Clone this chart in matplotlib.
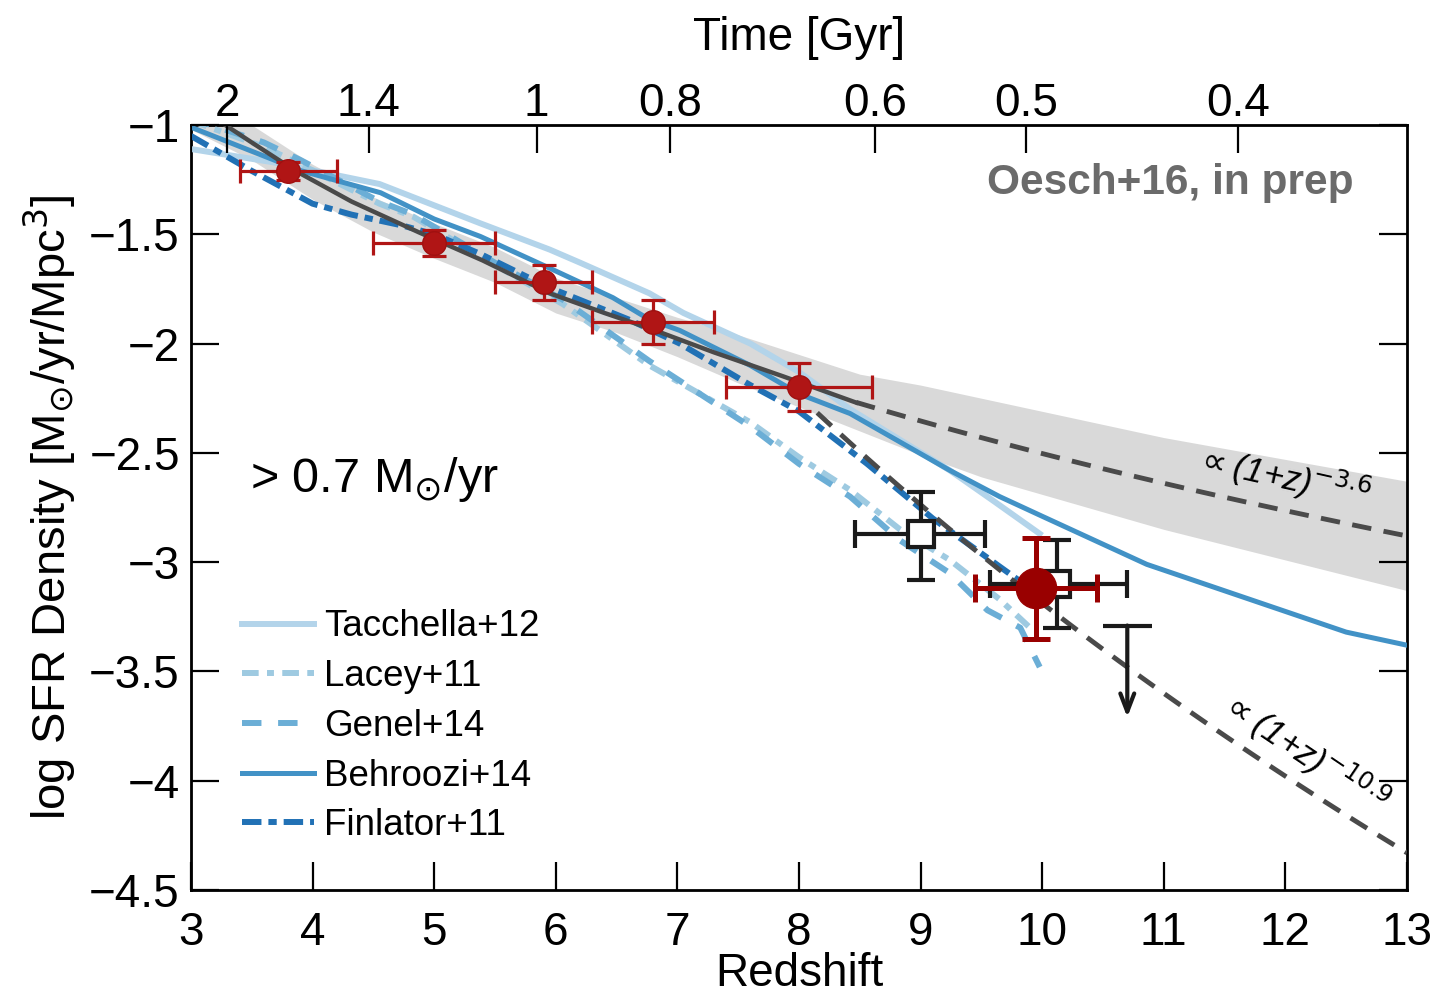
import numpy as np
import matplotlib
matplotlib.use("Agg")
import matplotlib.pyplot as plt

plt.rcParams['font.family'] = ['Liberation Sans', 'DejaVu Sans']
plt.rcParams['mathtext.fontset'] = 'dejavusans'
plt.rcParams['lines.scale_dashes'] = False

# observed SFRD points (red), z ranges and errors
z_obs = [3.8, 5.0, 5.9, 6.8, 8.0]
sfrd_obs = [-1.21, -1.54, -1.72, -1.90, -2.20]
sfrd_obs_err = [0.04, 0.06, 0.08, 0.10, 0.11]
z_obs_lo = [3.4, 4.5, 5.5, 6.3, 7.4]
z_obs_hi = [4.2, 5.5, 6.3, 7.3, 8.6]

# new z~10 point (big red)
z_new = [9.95]
sfrd_new = [-3.12]
sfrd_new_err = [0.23]
z_new_lo = [9.45]
z_new_hi = [10.45]

# previous estimates (black open squares)
z_prev = [9.0, 10.12]
sfrd_prev = [-2.87, -3.10]
sfrd_prev_lo = [0.21, 0.20]
sfrd_prev_hi = [0.19, 0.20]
z_prev_lo = [8.46, 9.57]
z_prev_hi = [9.53, 10.70]

# upper limit
z_lim = [10.7]
sfrd_lim = [-3.29]
z_lim_err = [0.2]

# fit to the data (solid black) and the gray band
z_fit = [3.2, 3.5, 3.86, 4.32, 4.87, 5.4, 5.95, 6.4, 6.77, 7.3, 7.87, 8.47]
sfrd_fit = [-0.97, -1.08, -1.21, -1.35, -1.49, -1.62, -1.77, -1.86, -1.93, -2.04, -2.15, -2.27]
z_band = [3.0, 3.5, 4.0, 4.5, 5.0, 5.5, 6.0, 6.5, 7.0, 7.5, 8.0, 8.5, 9.0, 9.5, 10.0, 11.0, 12.0, 13.0]
band_mid = [-0.92, -1.08, -1.26, -1.41, -1.53, -1.64, -1.78, -1.87, -1.97, -2.07, -2.17, -2.27,
            -2.35, -2.43, -2.50, -2.64, -2.76, -2.88]
band_half = [0.10, 0.08, 0.08, 0.08, 0.08, 0.08, 0.08, 0.08, 0.09, 0.11, 0.12, 0.13,
             0.16, 0.18, 0.19, 0.21, 0.23, 0.25]

# power-law extrapolations: log rho = norm + slope*log10(1+z)
slope_shallow, norm_shallow, z_start_shallow = -3.6, 1.246, 8.47
slope_steep, norm_steep, z_start_steep = -10.9, 8.163, 8.15

# models
z_tac = [3.0, 3.67, 4.2, 4.55, 5.38, 5.95, 6.2, 6.77, 7.05, 7.6, 8.0, 8.42, 8.83, 9.24, 9.6, 9.98]
sfrd_tac = [-1.11, -1.17, -1.23, -1.27, -1.45, -1.57, -1.63, -1.77, -1.86, -2.00, -2.13, -2.30,
            -2.44, -2.58, -2.72, -2.87]
z_lac = [3.0, 3.6, 3.9, 4.55, 4.83, 5.5, 6.06, 6.77, 7.6, 8.0, 8.42, 8.83, 9.24, 9.65, 9.9]
sfrd_lac = [-0.98, -1.10, -1.18, -1.36, -1.42, -1.64, -1.82, -2.10, -2.36, -2.52, -2.67, -2.85,
            -2.99, -3.17, -3.30]
z_gen = [3.0, 3.6, 3.9, 4.55, 4.83, 5.5, 6.06, 6.77, 7.6, 8.0, 8.42, 8.83, 9.24, 9.55, 9.82, 9.98]
sfrd_gen = [-0.97, -1.08, -1.16, -1.35, -1.41, -1.63, -1.80, -2.08, -2.38, -2.55, -2.70, -2.90,
            -3.05, -3.22, -3.30, -3.48]
z_beh = [3.0, 3.5, 3.91, 4.56, 5.0, 5.38, 5.93, 6.47, 6.77, 7.02, 7.6, 8.0, 8.42, 9.24, 9.65,
         10.0, 10.86, 12.5, 13.0]
sfrd_beh = [-1.01, -1.12, -1.21, -1.31, -1.43, -1.51, -1.65, -1.79, -1.89, -1.94, -2.10, -2.23,
            -2.32, -2.58, -2.70, -2.79, -3.01, -3.32, -3.38]
z_fin = [3.0, 3.5, 4.0, 4.32, 4.74, 5.0, 5.38, 5.93, 6.6, 7.02, 7.6, 8.0, 8.56, 9.1, 9.65, 9.8]
sfrd_fin = [-1.05, -1.21, -1.36, -1.41, -1.46, -1.50, -1.59, -1.74, -1.89, -2.00, -2.19, -2.31,
            -2.55, -2.80, -3.02, -3.08]

# cosmic time axis
ages = [2, 1.4, 1, 0.8, 0.6, 0.5, 0.4]
age_labels = ['2', '1.4', '1', '0.8', '0.6', '0.5', '0.4']
H0, Om = 70.0, 0.27


def age_to_z(t):
    # flat LCDM age-redshift relation, inverted
    OL = 1.0 - Om
    pref = 977.8 / H0 * 2.0 / (3.0 * np.sqrt(OL))
    return (np.sinh(np.asarray(t) / pref) / np.sqrt(OL / Om)) ** (-2.0 / 3.0) - 1.0


def minus(v):
    return f"{v:g}".replace('-', '\u2212')


fig = plt.figure(figsize=(14.37, 9.96), dpi=100)
ax = fig.add_axes([0.1329, 0.1064, 0.8462, 0.7681])

band_mid = np.array(band_mid)
band_half = np.array(band_half)
ax.fill_between(z_band, band_mid - band_half, band_mid + band_half, color='#d9d9d9', lw=0, zorder=1)

c_tac, c_lac, c_gen, c_beh, c_fin = '#b3d4ea', '#9ecae1', '#6baed6', '#4292c6', '#2171b5'
ax.plot(z_tac, sfrd_tac, color=c_tac, lw=4.3, label='Tacchella+12', zorder=3)
ax.plot(z_lac, sfrd_lac, color=c_lac, lw=4.3, dashes=(12, 6, 5, 6), label='Lacey+11', zorder=3)
ax.plot(z_gen, sfrd_gen, color=c_gen, lw=4.3, dashes=(14, 12), label='Genel+14', zorder=3)
ax.plot(z_beh, sfrd_beh, color=c_beh, lw=3.6, label='Behroozi+14', zorder=3)
ax.plot(z_fin, sfrd_fin, color=c_fin, lw=4.3, dashes=(14, 5, 6, 5), label='Finlator+11', zorder=3)

ax.plot(z_fit, sfrd_fit, color='#4a4a4a', lw=3.2, zorder=4)
zz = np.linspace(z_start_shallow, 13, 50)
ax.plot(zz, norm_shallow + slope_shallow * np.log10(1 + zz), color='#4a4a4a', lw=3.5,
        dashes=(14, 9), zorder=4)
zz = np.linspace(z_start_steep, 13, 50)
ax.plot(zz, norm_steep + slope_steep * np.log10(1 + zz), color='#4a4a4a', lw=3.5,
        dashes=(14, 9), zorder=4)

# data points
red = '#b01515'
xerr = [np.subtract(z_obs, z_obs_lo), np.subtract(z_obs_hi, z_obs)]
ax.errorbar(z_obs, sfrd_obs, xerr=xerr, yerr=sfrd_obs_err, fmt='o', color=red, mec='#a01010',
            ms=17, lw=2.3, capsize=8.5, capthick=2.3, zorder=6)

xerr = [np.subtract(z_prev, z_prev_lo), np.subtract(z_prev_hi, z_prev)]
ax.errorbar(z_prev, sfrd_prev, xerr=xerr, yerr=[sfrd_prev_lo, sfrd_prev_hi], fmt='s',
            color='#1a1a1a', mfc='white', mec='#1a1a1a', mew=3, ms=19, lw=3, capsize=10,
            capthick=3, zorder=6)

ax.errorbar(z_lim, sfrd_lim, xerr=z_lim_err, fmt='none', color='#1a1a1a', lw=3, zorder=6)
for zl, yl in zip(z_lim, sfrd_lim):
    ax.annotate('', xy=(zl, yl - 0.42), xytext=(zl, yl),
                arrowprops=dict(arrowstyle='->,head_length=1.3,head_width=0.5',
                                color='#1a1a1a', lw=3, shrinkA=0, shrinkB=0), zorder=6)

xerr = [np.subtract(z_new, z_new_lo), np.subtract(z_new_hi, z_new)]
ax.errorbar(z_new, sfrd_new, xerr=xerr, yerr=sfrd_new_err, fmt='o', color='#990000',
            ms=29, lw=3.6, capsize=10, capthick=3.6, zorder=7)

# annotations
ax.text(11.98, -2.61, r'$\propto$(1+z)$^{-3.6}$', fontsize=25, rotation=-12.7,
        fontstyle='italic', ha='center', va='center', zorder=8)
ax.text(12.16, -3.87, r'$\propto$(1+z)$^{-10.9}$', fontsize=25, rotation=-34,
        fontstyle='italic', ha='center', va='center', zorder=8)
ax.text(12.56, -1.265, 'Oesch+16, in prep', fontsize=30.5, fontweight='bold', color='#6b6b6b',
        ha='right', va='center')
ax.text(3.485, -2.62, r'> 0.7 M$_{\odot}$/yr', fontsize=35, ha='left', va='center')

leg = ax.legend(loc='upper left', bbox_to_anchor=(0.03, 0.386), fontsize=26.5, frameon=False,
                handlelength=1.95, handletextpad=0.27, labelspacing=0.4, borderaxespad=0)

yticks = [-1, -1.5, -2, -2.5, -3, -3.5, -4, -4.5]
ax.set_xlim(3, 13)
ax.set_ylim(-4.5, -1)
ax.set_xticks(range(3, 14))
ax.set_yticks(yticks)
ax.set_yticklabels([minus(v) for v in yticks])
ax.tick_params(which='both', direction='in', length=20, width=1.6, labelsize=33,
               top=False, right=True)
ax.tick_params(axis='x', pad=15)
ax.tick_params(axis='y', pad=8)
for sp in ax.spines.values():
    sp.set_linewidth(2)
ax.set_xlabel('Redshift', fontsize=33, labelpad=-2)
ax.set_ylabel(r'log SFR Density [M$_{\odot}$/yr/Mpc$^3$]', fontsize=34, labelpad=8)

ax_top = ax.twiny()
ax_top.set_xlim(3, 13)
ax_top.set_xticks(age_to_z(ages))
ax_top.set_xticklabels(age_labels)
ax_top.tick_params(direction='in', length=20, width=1.6, labelsize=33, pad=-1)
ax_top.set_xlabel('Time [Gyr]', fontsize=33, labelpad=23)

fig.savefig('out.png', dpi=100)
